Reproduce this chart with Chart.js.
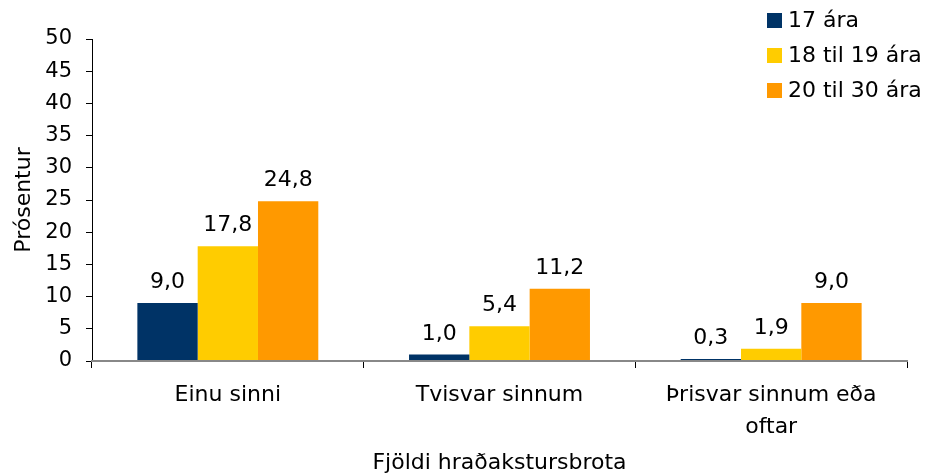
<!DOCTYPE html>
<html>
<head>
<meta charset="utf-8">
<script src="https://cdn.jsdelivr.net/npm/chart.js@4.4.0/dist/chart.umd.min.js"></script>
<style>
  body { margin: 0; background: #fff; }
  #wrap { width: 927px; height: 474px; position: relative; }
</style>
</head>
<body>
<div id="wrap"><canvas id="chart"></canvas></div>
<script>
const categories = ["Einu sinni", "Tvisvar sinnum", ["Þrisvar sinnum eða", "oftar"]];
const series = ["17 ára", "18 til 19 ára", "20 til 30 ára"];
const age17 = [9.0, 1.0, 0.3];
const age18to19 = [17.8, 5.4, 1.9];
const age20to30 = [24.8, 11.2, 9.0];
const colors = ["#003366", "#FFCC00", "#FF9900"];

const FONT = "'DejaVu Sans', Verdana, sans-serif";

// value labels above the bars, with a comma decimal
const valueLabels = {
  id: 'valueLabels',
  afterDatasetsDraw(chart) {
    const ctx = chart.ctx;
    ctx.save();
    ctx.font = '22px ' + FONT;
    ctx.fillStyle = '#000';
    ctx.textAlign = 'center';
    ctx.textBaseline = 'alphabetic';
    chart.data.datasets.forEach((ds, i) => {
      chart.getDatasetMeta(i).data.forEach((bar, j) => {
        const txt = ds.data[j].toFixed(1).replace('.', ',');
        ctx.fillText(txt, bar.x, bar.y - 15);
      });
    });
    ctx.restore();
  }
};

// legend in the top right corner
const cornerLegend = {
  id: 'cornerLegend',
  afterDraw(chart) {
    const ctx = chart.ctx;
    ctx.save();
    ctx.font = '22px ' + FONT;
    ctx.textBaseline = 'middle';
    ctx.textAlign = 'left';
    chart.data.datasets.forEach((ds, i) => {
      const cy = 20 + i * 35;
      ctx.fillStyle = ds.backgroundColor;
      ctx.fillRect(767, cy - 7, 15, 15);
      ctx.fillStyle = '#000';
      ctx.fillText(ds.label, 788, cy + 1);
    });
    ctx.restore();
  }
};

new Chart(document.getElementById('chart'), {
  type: 'bar',
  data: {
    labels: categories,
    datasets: [
      { label: series[0], data: age17, backgroundColor: colors[0] },
      { label: series[1], data: age18to19, backgroundColor: colors[1] },
      { label: series[2], data: age20to30, backgroundColor: colors[2] }
    ]
  },
  options: {
    responsive: true,
    maintainAspectRatio: false,
    animation: false,
    layout: { padding: { top: 39, right: 20, left: 0, bottom: 0 } },
    datasets: { bar: { categoryPercentage: 0.666, barPercentage: 1 } },
    plugins: {
      legend: { display: false },
      tooltip: { enabled: false }
    },
    scales: {
      x: {
        afterFit: s => { s.height = 113; },
        grid: { drawOnChartArea: false, color: '#000', tickLength: 7, offset: true },
        border: { color: '#888', width: 2, z: 1 },
        ticks: {
          color: '#000',
          padding: 11,
          maxRotation: 0,
          font: { family: FONT, size: 22, lineHeight: 1.455 }
        },
        title: {
          display: true,
          text: 'Fjöldi hraðakstursbrota',
          color: '#000',
          font: { family: FONT, size: 22, lineHeight: 1 },
          padding: { top: 0, bottom: 0 }
        }
      },
      y: {
        min: 0,
        max: 50,
        afterFit: s => { s.width = 92; },
        grid: { drawOnChartArea: false, color: '#000', tickLength: 6 },
        border: { color: '#000', width: 1 },
        ticks: {
          stepSize: 5,
          color: '#000',
          padding: 14,
          font: { family: FONT, size: 21 }
        },
        title: {
          display: true,
          text: 'Prósentur',
          color: '#000',
          font: { family: FONT, size: 22, lineHeight: 1.2 },
          padding: { top: 11, bottom: 0 }
        }
      }
    }
  },
  plugins: [valueLabels, cornerLegend]
});
</script>
</body>
</html>
